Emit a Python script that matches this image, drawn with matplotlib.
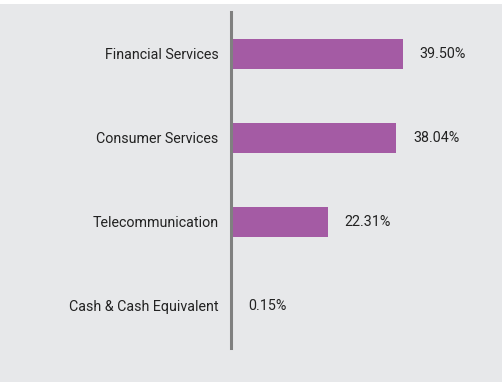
import matplotlib
matplotlib.use('Agg')
import matplotlib.pyplot as plt
from matplotlib.patches import Rectangle

# sector weights
sectors = ['Financial Services', 'Consumer Services', 'Telecommunication', 'Cash & Cash Equivalent']
weights = [39.50, 38.04, 22.31, 0.15]
labels = ['39.50%', '38.04%', '22.31%', '0.15%']

plt.rcParams['font.family'] = ['Roboto', 'DejaVu Sans']

bg = '#e7e8ea'
fig = plt.figure(figsize=(5.03, 3.82), dpi=100, facecolor='white')
# gray panel with a thin white edge at top and right
fig.patches.append(Rectangle((0, 0), 502 / 503, 378 / 382, transform=fig.transFigure,
                             facecolor=bg, edgecolor='none', zorder=-10))
ax = fig.add_axes([231 / 503, 1 - 348 / 382, (500 - 231) / 503, 336 / 382])
ax.set_facecolor('none')

pos = list(range(len(sectors)))
ax.barh(pos, weights, height=0.36, color='#a45ba4')
for p, w, lab in zip(pos, weights, labels):
    ax.text(w + 3.8, p, lab, va='center', ha='left', fontsize=10.3, color='#222222')

ax.set_xlim(0, (500 - 231) / 4.35)
ax.set_ylim(3.5, -0.5)
ax.set_yticks(pos)
ax.set_yticklabels(sectors, fontsize=10.3, color='#222222')
ax.tick_params(axis='y', length=0, pad=9)
ax.set_xticks([])
for s in ['top', 'right', 'bottom']:
    ax.spines[s].set_visible(False)
ax.spines['left'].set_color('#808080')
ax.spines['left'].set_linewidth(2.2)

fig.savefig('out.png', dpi=100, facecolor='white')
